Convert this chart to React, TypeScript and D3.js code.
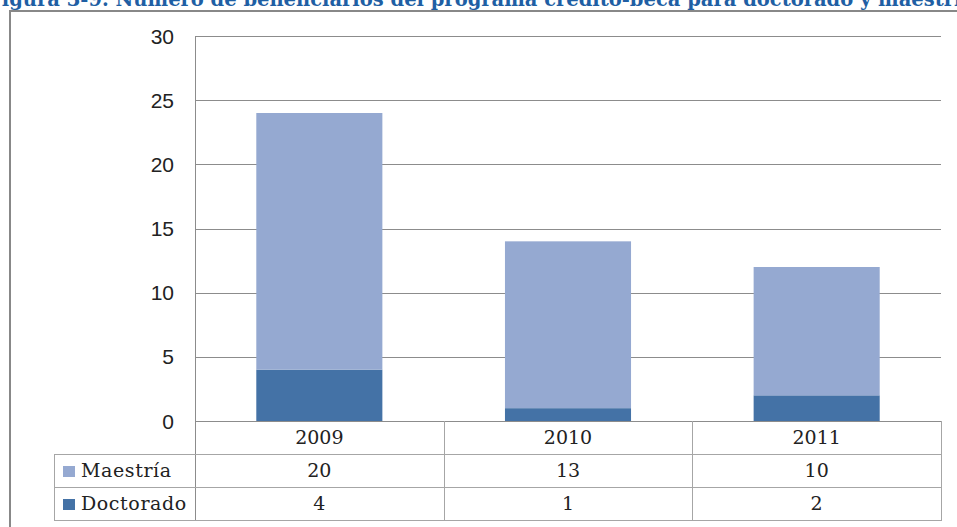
import React from "react";
import * as d3 from "d3";

const years = ["2009", "2010", "2011"];
const maestria = [20, 13, 10];
const doctorado = [4, 1, 2];
const yTicks = [0, 5, 10, 15, 20, 25, 30];
const seriesNames = ["Maestría", "Doctorado"];
const title = "Figura 3-9. Número de beneficiarios del programa crédito-beca para doctorado y maestría";

const W = 957;
const H = 527;
const colMaestria = "#95A9D1";
const colDoctorado = "#4472A6";
const gridCol = "#8c8c8c";
const tableCol = "#a6a6a6";

export default function App() {
  const x = d3.scaleBand<string>().domain(years).range([195, 941]).paddingInner(0.493).paddingOuter(0.2465);
  const y = d3.scaleLinear().domain([0, 30]).range([421, 36]);
  const stack = d3.stack<any>().keys(["doctorado", "maestria"]);
  const rows = years.map((yr, i) => ({ year: yr, doctorado: doctorado[i], maestria: maestria[i] }));
  const series = stack(rows);
  const colors: Record<string, string> = { doctorado: colDoctorado, maestria: colMaestria };

  const tableLeft = 54;
  const rowY = [421, 454, 487, 520];
  const edges = [195, ...years.map((yr) => (x(yr) as number) + x.bandwidth() / 2 + x.step() / 2)];
  const tableFont = "'DejaVu Serif', serif";
  const rowVals = [maestria, doctorado];
  const rowColors = [colMaestria, colDoctorado];

  return (
    <svg width={W} height={H} style={{ position: "absolute", left: 0, top: 0, background: "#fff" }}>
      <rect x={0} y={0} width={W} height={H} fill="#fff" />
      <text x={-12} y={6} textLength={986} lengthAdjust="spacingAndGlyphs" fontFamily="'DejaVu Serif', serif" fontWeight="bold" fontSize={20} fill="#1F5FA4">
        {title}
      </text>
      <rect x={10} y={11} width={W + 20} height={H + 20} fill="none" stroke="#888" strokeWidth={2} />
      {yTicks.map((t) => (
        <g key={t}>
          {t > 0 && <line x1={195} x2={941} y1={Math.round(y(t)) + 0.5} y2={Math.round(y(t)) + 0.5} stroke={gridCol} strokeWidth={1} />}
          <text x={174} y={y(t) + 7.5} textAnchor="end" fontFamily="'Liberation Sans', Arial, sans-serif" fontSize={21} fill="#222">
            {t}
          </text>
        </g>
      ))}
      {series.map((s) => (
        <g key={s.key} fill={colors[s.key]}>
          {s.map((d, i) => (
            <rect key={i} x={x(years[i])} width={x.bandwidth()} y={y(d[1])} height={y(d[0]) - y(d[1])} />
          ))}
        </g>
      ))}
      {/* y axis */}
      <line x1={195.5} x2={195.5} y1={36} y2={520} stroke={gridCol} />
      <line x1={195} x2={941} y1={421.5} y2={421.5} stroke={gridCol} />
      {/* table */}
      {rowY.slice(1).map((ry) => (
        <line key={ry} x1={tableLeft} x2={941} y1={ry + 0.5} y2={ry + 0.5} stroke={tableCol} />
      ))}
      <line x1={tableLeft + 0.5} x2={tableLeft + 0.5} y1={454} y2={521} stroke={tableCol} />
      {edges.slice(1).map((ex) => (
        <line key={ex} x1={Math.round(ex) + 0.5} x2={Math.round(ex) + 0.5} y1={421} y2={521} stroke={tableCol} />
      ))}
      {years.map((yr) => (
        <text key={yr} x={(x(yr) as number) + x.bandwidth() / 2} y={444} textAnchor="middle" fontFamily={tableFont} fontSize={19} fill="#222">
          {yr}
        </text>
      ))}
      {rowVals.map((vals, r) => (
        <g key={r}>
          <rect x={63} y={rowY[r + 1] + 12} width={12} height={11} fill={rowColors[r]} />
          <text x={81} y={rowY[r + 1] + 23} fontFamily={tableFont} fontSize={19} letterSpacing={0.6} fill="#222">
            {seriesNames[r]}
          </text>
          {vals.map((v, i) => (
            <text key={i} x={(x(years[i]) as number) + x.bandwidth() / 2} y={rowY[r + 1] + 23} textAnchor="middle" fontFamily={tableFont} fontSize={19} fill="#222">
              {v}
            </text>
          ))}
        </g>
      ))}
    </svg>
  );
}
